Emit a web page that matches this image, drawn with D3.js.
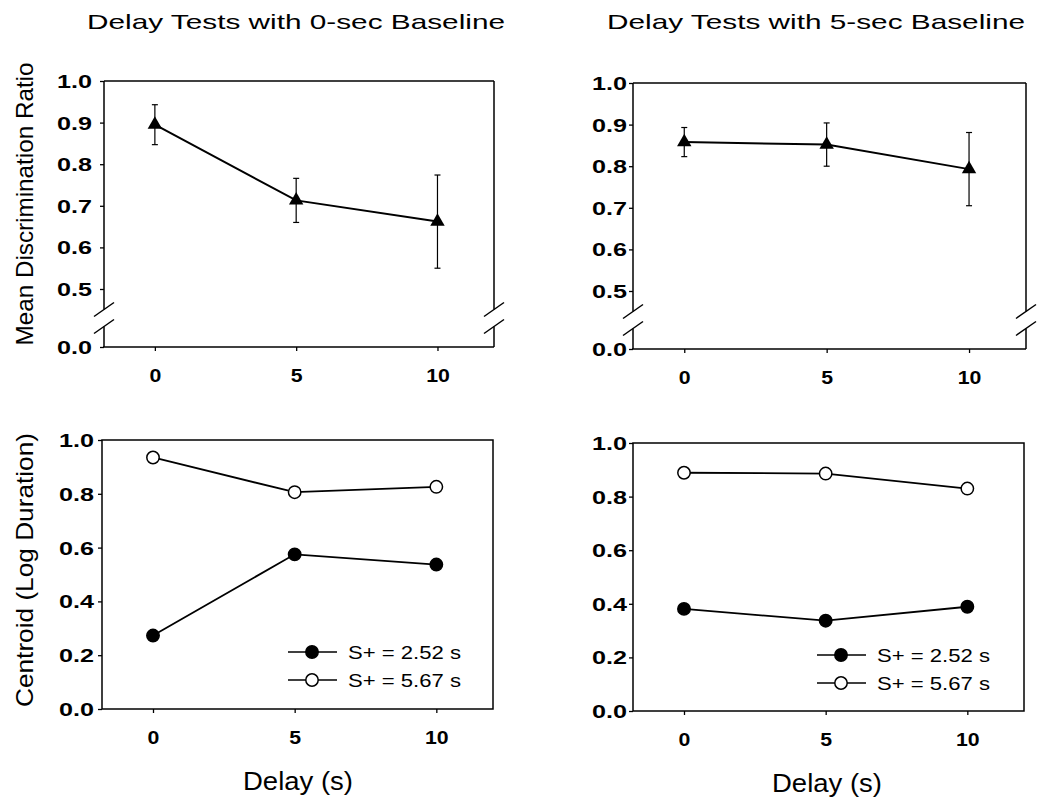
<!DOCTYPE html>
<html><head><meta charset="utf-8">
<script src="https://cdn.jsdelivr.net/npm/d3@7"></script>
<style>body{margin:0;background:#fff}</style>
</head><body><svg id="c" width="1040" height="800"></svg>
<script>
// ---- data ----
const delays = [0, 5, 10];
const xTicks = [0, 5, 10];
const ratioTicks = [0.0, 0.5, 0.6, 0.7, 0.8, 0.9, 1.0];
const centroidTicks = [0.0, 0.2, 0.4, 0.6, 0.8, 1.0];
const panelTitles = ["Delay Tests with 0-sec Baseline", "Delay Tests with 5-sec Baseline"];
const ratioTitle = "Mean Discrimination Ratio";
const centroidTitle = "Centroid (Log Duration)";
const xTitle = "Delay (s)";
const seriesLabels = ["S+ = 2.52 s", "S+ = 5.67 s"];
const ratio0 = [0.895, 0.713, 0.662];
const ratio0Err = [0.048, 0.053, 0.112];
const ratio5 = [0.858, 0.852, 0.793];
const ratio5Err = [0.035, 0.052, 0.088];
const short0 = [0.273, 0.575, 0.537];
const long0 = [0.935, 0.806, 0.826];
const short5 = [0.381, 0.337, 0.389];
const long5 = [0.889, 0.886, 0.830];

// ---- layout ----
const FONT = "'Liberation Sans', Arial, Helvetica, sans-serif";
const panels = [
  {type: "ratio", L: 104, R: 494, T: 81, B: 347, mean: ratio0, err: ratio0Err, title: panelTitles[0], titleX: 296, yTitle: ratioTitle, yTitleY: 204, yTitleLen: 283, labGap: 12},
  {type: "ratio", L: 633, R: 1026, T: 83, B: 349, mean: ratio5, err: ratio5Err, title: panelTitles[1], titleX: 816, labGap: 6},
  {type: "centroid", L: 102, R: 493, T: 440, B: 709, s: short0, l: long0, yTitle: centroidTitle, yTitleY: 570, yTitleLen: 274, legend: {x: 288, y: 652}, labGap: 8, xTitleX: 298, xTitleY: 790},
  {type: "centroid", L: 633, R: 1024, T: 443, B: 711, s: short5, l: long5, legend: {x: 817, y: 655}, labGap: 6, xTitleX: 827, xTitleY: 792}
];

const svg = d3.select("#c");
svg.append("rect").attr("width", 1040).attr("height", 800).attr("fill", "#fff");

function seg(g, x1, y1, x2, y2, w) {
  g.append("line").attr("x1", x1).attr("y1", y1).attr("x2", x2).attr("y2", y2)
    .attr("stroke", "#000").attr("stroke-width", w || 1.5);
}

panels.forEach(p => {
  const g = svg.append("g");
  const x = d3.scaleLinear().domain([-1.8, 12]).range([p.L, p.R]);
  const y = p.type === "ratio"
    ? d3.scaleLinear().domain([0, 0.5, 1]).range([p.B, p.B - 58, p.T])
    : d3.scaleLinear().domain([0, 1]).range([p.B, p.T]);

  // frame
  if (p.type === "ratio") {
    const yb = y(0.25), gap = 8.5;
    seg(g, p.L, p.T, p.R, p.T);
    seg(g, p.L - 1, p.B, p.R, p.B);
    [p.L, p.R].forEach(xx => {
      seg(g, xx, p.T, xx, yb - gap);
      seg(g, xx, yb + gap, xx, p.B);
      seg(g, xx - 10, yb - gap + 7, xx + 10, yb - gap - 7, 1.5);
      seg(g, xx - 10, yb + gap + 7, xx + 10, yb + gap - 7, 1.5);
    });
  } else {
    g.append("rect").attr("x", p.L).attr("y", p.T).attr("width", p.R - p.L).attr("height", p.B - p.T)
      .attr("fill", "none").attr("stroke", "#000").attr("stroke-width", 1.5);
  }

  // y axis
  const ya = d3.axisLeft(y).tickValues(p.type === "ratio" ? ratioTicks : centroidTicks)
    .tickSize(4).tickSizeOuter(0).tickFormat(d3.format(".1f"));
  const yg = g.append("g").attr("transform", `translate(${p.L},0)`).call(ya);
  yg.select(".domain").remove();
  yg.selectAll("line").attr("stroke", "#000").attr("stroke-width", 1.3);
  const syl = 1.4;
  yg.selectAll("text").attr("font-family", FONT).attr("font-size", 18).attr("font-weight", "bold")
    .attr("fill", "#000").attr("x", -p.labGap / syl).attr("dy", "0.36em").attr("transform", `scale(${syl},1)`);

  // x axis
  const xa = d3.axisBottom(x).tickValues(xTicks).tickSize(4).tickSizeOuter(0).tickFormat(d3.format("d"));
  const xg = g.append("g").attr("transform", `translate(0,${p.B})`).call(xa);
  xg.select(".domain").remove();
  xg.selectAll("line").attr("stroke", "#000").attr("stroke-width", 1.3);
  xg.selectAll("text").attr("font-family", FONT).attr("font-size", 19).attr("font-weight", "bold")
    .attr("fill", "#000").attr("y", 35).attr("dy", null).attr("x", 0).attr("transform", "scale(1.12,1)");

  // titles
  if (p.title) {
    svg.append("text").attr("x", p.titleX).attr("y", 29).attr("text-anchor", "middle")
      .attr("font-family", FONT).attr("font-size", 21).attr("textLength", 418)
      .attr("lengthAdjust", "spacingAndGlyphs").text(p.title);
  }
  if (p.yTitle) {
    svg.append("text").attr("transform", `translate(33,${p.yTitleY}) rotate(-90)`).attr("text-anchor", "middle")
      .attr("font-family", FONT).attr("font-size", 24).attr("textLength", p.yTitleLen)
      .attr("lengthAdjust", "spacingAndGlyphs").text(p.yTitle);
  }
  if (p.xTitleX) {
    svg.append("text").attr("x", p.xTitleX).attr("y", p.xTitleY).attr("text-anchor", "middle")
      .attr("font-family", FONT).attr("font-size", 25).attr("textLength", 110)
      .attr("lengthAdjust", "spacingAndGlyphs").text(xTitle);
  }

  const line = d3.line().x(d => x(d[0])).y(d => y(d[1]));

  if (p.type === "ratio") {
    const pts = delays.map((d, i) => [d, p.mean[i], p.err[i]]);
    g.append("path").attr("d", line(pts)).attr("fill", "none").attr("stroke", "#000").attr("stroke-width", 2);
    pts.forEach(d => {
      const cx = x(d[0]);
      seg(g, cx, y(d[1] - d[2]), cx, y(d[1] + d[2]), 1.2);
      seg(g, cx - 3, y(d[1] - d[2]), cx + 3, y(d[1] - d[2]), 1.2);
      seg(g, cx - 3, y(d[1] + d[2]), cx + 3, y(d[1] + d[2]), 1.2);
    });
    g.selectAll(".tri").data(pts).enter().append("path")
      .attr("d", d3.symbol(d3.symbolTriangle, 90))
      .attr("transform", d => `translate(${x(d[0])},${y(d[1])})`).attr("fill", "#000");
  } else {
    const series = [
      {vals: p.s, fill: "#000", label: seriesLabels[0]},
      {vals: p.l, fill: "#fff", label: seriesLabels[1]}
    ];
    series.forEach(s => {
      const pts = delays.map((d, i) => [d, s.vals[i]]);
      g.append("path").attr("d", line(pts)).attr("fill", "none").attr("stroke", "#000").attr("stroke-width", 1.8);
    });
    series.forEach(s => {
      const pts = delays.map((d, i) => [d, s.vals[i]]);
      g.selectAll(null).data(pts).enter().append("circle")
        .attr("cx", d => x(d[0])).attr("cy", d => y(d[1])).attr("r", 6.2)
        .attr("fill", s.fill).attr("stroke", "#000").attr("stroke-width", 1.5);
    });
    // legend
    series.forEach((s, i) => {
      const ly = p.legend.y + i * 28;
      seg(g, p.legend.x, ly, p.legend.x + 49, ly, 1.5);
      g.append("circle").attr("cx", p.legend.x + 24).attr("cy", ly).attr("r", 6.2)
        .attr("fill", s.fill).attr("stroke", "#000").attr("stroke-width", 1.5);
      g.append("text").attr("x", p.legend.x + 60).attr("y", ly + 7)
        .attr("font-family", FONT).attr("font-size", 19)
        .attr("textLength", 113).attr("lengthAdjust", "spacingAndGlyphs").text(s.label);
    });
  }
});
</script>
</body></html>
